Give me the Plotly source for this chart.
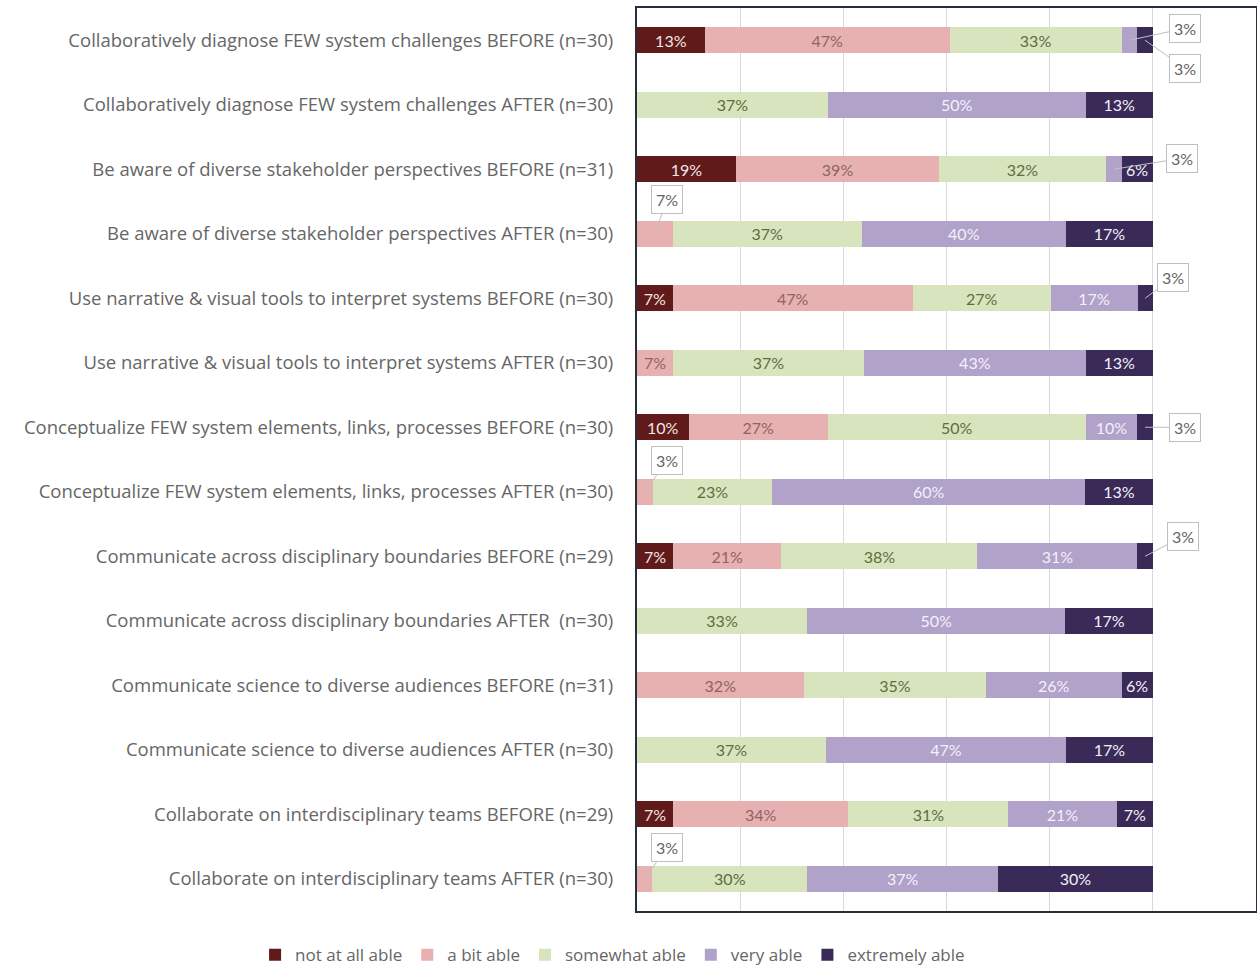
import plotly.graph_objects as go

categories = [
    "Collaboratively diagnose FEW system challenges BEFORE (n=30)",
    "Collaboratively diagnose FEW system challenges AFTER (n=30)",
    "Be aware of diverse stakeholder perspectives BEFORE (n=31)",
    "Be aware of diverse stakeholder perspectives AFTER (n=30)",
    "Use narrative & visual tools to interpret systems BEFORE (n=30)",
    "Use narrative & visual tools to interpret systems AFTER (n=30)",
    "Conceptualize FEW system elements, links, processes BEFORE (n=30)",
    "Conceptualize FEW system elements, links, processes AFTER (n=30)",
    "Communicate across disciplinary boundaries BEFORE (n=29)",
    "Communicate across disciplinary boundaries AFTER  (n=30)",
    "Communicate science to diverse audiences BEFORE (n=31)",
    "Communicate science to diverse audiences AFTER (n=30)",
    "Collaborate on interdisciplinary teams BEFORE (n=29)",
    "Collaborate on interdisciplinary teams AFTER (n=30)",
]

series_names = ["not at all able", "a bit able", "somewhat able", "very able", "extremely able"]

not_at_all = [13, 0, 19, 0, 7, 0, 10, 0, 7, 0, 0, 0, 7, 0]
a_bit = [47, 0, 39, 7, 47, 7, 27, 3, 21, 0, 32, 0, 34, 3]
somewhat = [33, 37, 32, 37, 27, 37, 50, 23, 38, 33, 35, 37, 31, 30]
very = [3, 50, 3, 40, 17, 43, 10, 60, 31, 50, 26, 47, 21, 37]
extremely = [3, 13, 6, 17, 3, 13, 3, 13, 3, 17, 6, 17, 7, 30]

series_values = [not_at_all, a_bit, somewhat, very, extremely]

# labels shown in callout boxes instead of inside the bar: (row index, series index)
callouts = [(0, 3), (0, 4), (2, 3), (3, 1), (4, 4), (6, 4), (7, 1), (8, 4), (13, 1)]
# callout box pixel offsets (style only)
callout_offsets = {
    (0, 3): (56, -12), (0, 4): (40, 28), (2, 3): (68, -11), (3, 1): (12, -34),
    (4, 4): (28, -21), (6, 4): (40, 0), (7, 1): (22, -31), (8, 4): (38, -20),
    (13, 1): (22, -31),
}

fill_colors = ["#611a1a", "#e6b1b0", "#d8e4bd", "#b1a2c9", "#3a2a57"]
text_colors = ["#f2e6e6", "#8f6464", "#5d6e3f", "#f4f0fa", "#f4f0fa"]

FONT = "Lato, 'Open Sans', sans-serif"
LABEL_FONT = "'Open Sans', Lato, sans-serif"
GRAY = "#666666"

fig = go.Figure()
for si, (name, vals) in enumerate(zip(series_names, series_values)):
    texts = []
    for ri, v in enumerate(vals):
        if v == 0 or (ri, si) in callouts:
            texts.append("")
        else:
            texts.append(f"{v}%")
    fig.add_trace(go.Bar(
        name=name,
        y=categories,
        x=vals,
        orientation="h",
        marker=dict(color=fill_colors[si], line=dict(width=0)),
        text=texts,
        textposition="inside",
        insidetextanchor="middle",
        textangle=0,
        insidetextfont=dict(color=text_colors[si], size=16, family=FONT),
        constraintext="none",
        cliponaxis=False,
        hoverinfo="skip",
    ))

# callout annotations, anchored at segment centres computed from the data
for (ri, si) in callouts:
    row = [s[ri] for s in series_values]
    total = sum(row)
    start = sum(row[:si]) / total * 100
    width = row[si] / total * 100
    ax, ay = callout_offsets[(ri, si)]
    fig.add_annotation(
        x=start + width / 2, y=categories[ri], xref="x", yref="y",
        text=f"{row[si]}%", showarrow=True, arrowhead=0, arrowwidth=1,
        arrowcolor="#bfbfbf", ax=ax, ay=ay,
        bgcolor="white", bordercolor="#bfbfbf", borderwidth=1, borderpad=4,
        font=dict(size=16, color=GRAY, family=FONT),
    )

fig.update_layout(
    barmode="stack",
    barnorm="percent",
    bargap=0.6,
    width=1257, height=968,
    margin=dict(l=637, r=1, t=8, b=57, autoexpand=False),
    paper_bgcolor="white",
    plot_bgcolor="white",
    font=dict(family=FONT, color=GRAY, size=16),
    showlegend=True,
    legend=dict(
        orientation="h", xref="paper", yref="paper",
        x=-0.617, xanchor="left", y=-0.029, yanchor="top",
        font=dict(size=17, color=GRAY, family=LABEL_FONT),
        itemwidth=30, traceorder="normal",
        itemclick=False, itemdoubleclick=False,
    ),
    xaxis=dict(
        range=[0, 120], dtick=20, showticklabels=False,
        showgrid=True, gridcolor="#d9d9d9", gridwidth=1, zeroline=False,
        showline=True, mirror=True, linecolor="#26303d", linewidth=2,
        ticks="",
    ),
    yaxis=dict(
        range=[13.5, -0.5], showgrid=False, ticks="",
        showline=True, mirror=True, linecolor="#26303d", linewidth=2,
        tickfont=dict(size=18.5, color=GRAY, family=LABEL_FONT),
        ticklabelstandoff=18,
    ),
)

fig.write_html("out.html")
